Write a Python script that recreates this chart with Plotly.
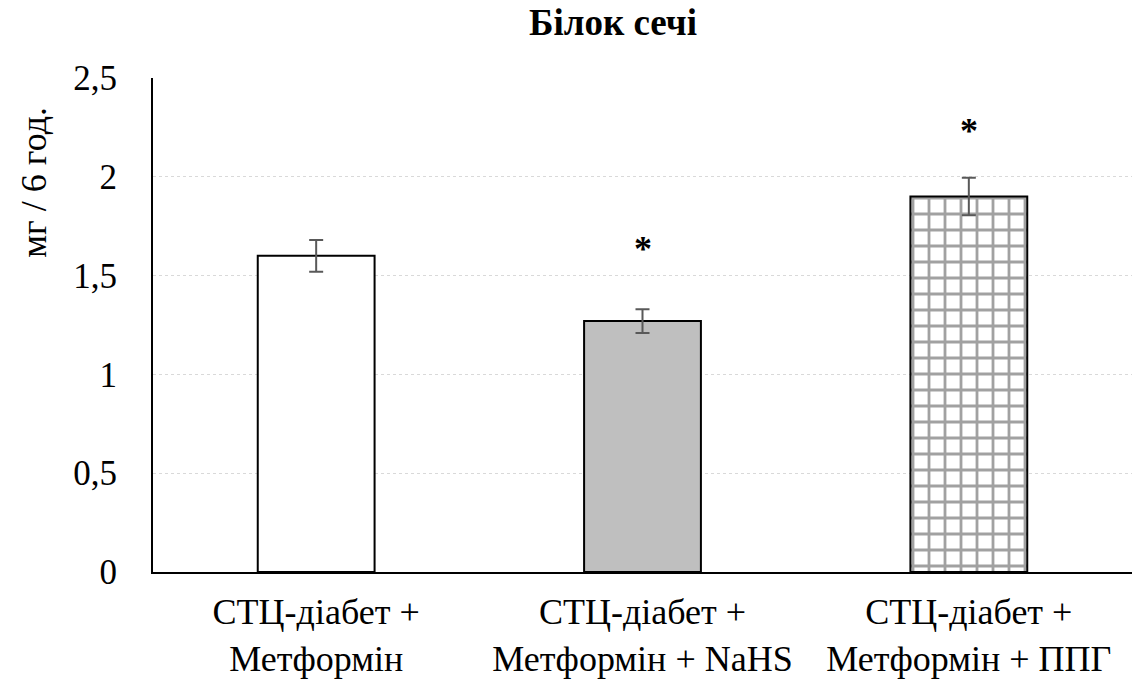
import plotly.graph_objects as go

categories = ["СТЦ-діабет +<br>Метформін", "СТЦ-діабет +<br>Метформін + NaHS", "СТЦ-діабет +<br>Метформін + ППГ"]
values = [1.60, 1.27, 1.90]
errors = [0.08, 0.06, 0.095]
star_y = [None, 1.635, 2.23]
fills = ["white", "#bfbfbf", "white"]
patterns = ["", "", "+"]
tick_vals = [0, 0.5, 1, 1.5, 2, 2.5]
tick_text = ["0", "0,5", "1", "1,5", "2", "2,5"]

FONT = "Liberation Serif"

fig = go.Figure()
fig.add_trace(go.Bar(
    x=categories, y=values, width=0.358,
    marker=dict(color=fills, line=dict(color="black", width=2),
                pattern=dict(shape=patterns, fgcolor="black", bgcolor="white", size=16, solidity=0.32, fillmode="overlay")),
    error_y=dict(type="data", array=errors, color="#595959", thickness=2, width=7),
    showlegend=False,
))

for c, s in zip(categories, star_y):
    if s is not None:
        fig.add_annotation(x=c, y=s, text="<b>*</b>", showarrow=False,
                           font=dict(family=FONT, size=36, color="black"))

fig.add_annotation(xref="paper", yref="paper", x=-0.1216, y=0.79, xanchor="center", yanchor="middle",
                   text="мг / 6 год.", textangle=-90, showarrow=False,
                   font=dict(family=FONT, size=36, color="black"))

fig.update_layout(
    width=1132, height=683,
    margin=dict(l=153, r=0, t=78, b=111),
    paper_bgcolor="white", plot_bgcolor="white",
    separators=", ",
    title=dict(text="<b>Білок сечі</b>", x=0.5415, xanchor="center", y=0.968, yanchor="middle",
               font=dict(family=FONT, size=37, color="black")),
    font=dict(family=FONT, size=36, color="black"),
)
fig.update_xaxes(showline=True, linecolor="black", linewidth=2, ticks="", showgrid=False,
                 tickfont=dict(family=FONT, size=36), ticklabelstandoff=7)
fig.update_yaxes(range=[0, 2.5], tickvals=tick_vals, ticktext=tick_text,
                 showline=True, linecolor="black", linewidth=2,
                 showgrid=True, gridcolor="#d9d9d9", gridwidth=1, griddash="3px,3px",
                 zeroline=False, ticks="", ticklabelstandoff=27,
                 tickfont=dict(family=FONT, size=35))

fig.write_html("out.html")
